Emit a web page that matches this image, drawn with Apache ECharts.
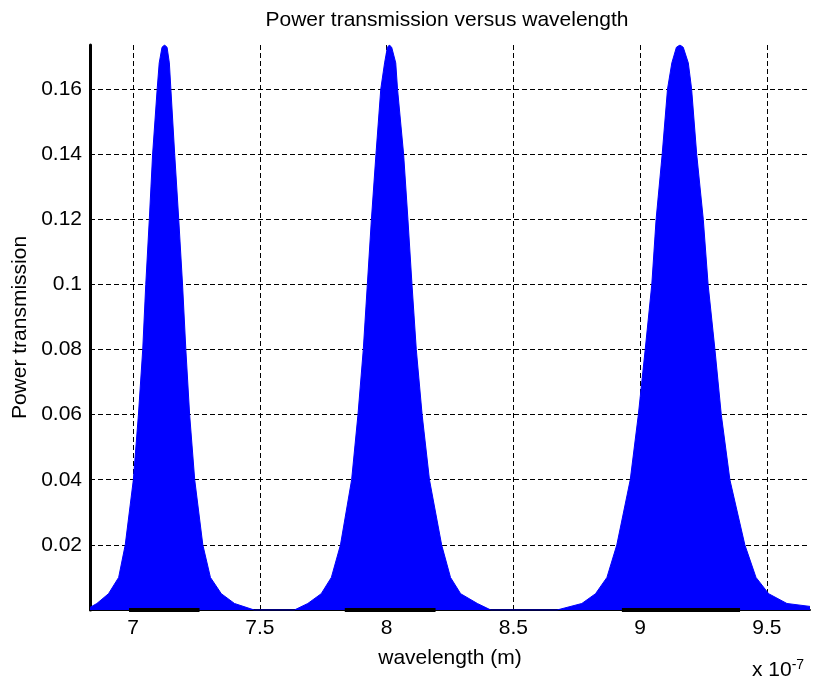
<!DOCTYPE html>
<html>
<head>
<meta charset="utf-8">
<script src="https://cdn.jsdelivr.net/npm/echarts@6/dist/echarts.min.js"></script>
<style>
html,body{margin:0;padding:0;background:#fff;}
#chart{width:815px;height:686px;}
</style>
</head>
<body>
<div id="chart"></div>
<script>
// wavelength in units of 1e-7 m
var wavelength = [
  6.83, 6.857, 6.903, 6.943, 6.969, 7.001, 7.021, 7.038, 7.050, 7.064, 7.077, 7.095,
  7.103, 7.114, 7.124, 7.134, 7.143,
  7.149, 7.164, 7.180, 7.195, 7.208, 7.223, 7.243, 7.275, 7.305, 7.348, 7.400, 7.478,
  7.636, 7.689, 7.742, 7.782, 7.818, 7.862, 7.887, 7.908, 7.924, 7.940, 7.958, 7.977,
  7.992, 8.003, 8.011, 8.020, 8.036,
  8.043, 8.067, 8.084, 8.100, 8.117, 8.140, 8.169, 8.217, 8.252, 8.292, 8.358, 8.411,
  8.672, 8.770, 8.824, 8.869, 8.908, 8.961, 8.993, 9.020, 9.046, 9.063, 9.087, 9.108,
  9.125, 9.143, 9.157, 9.170, 9.190,
  9.203, 9.223, 9.249, 9.268, 9.295, 9.320, 9.354, 9.413, 9.457, 9.507, 9.579, 9.67
];
var transmission = [
  0.0008, 0.002, 0.005, 0.01, 0.02, 0.04, 0.06, 0.08, 0.10, 0.12, 0.14, 0.16,
  0.168, 0.1728, 0.1735, 0.1728, 0.168,
  0.16, 0.14, 0.12, 0.10, 0.08, 0.06, 0.04, 0.02, 0.01, 0.005, 0.002, 0.0,
  0.0, 0.002, 0.005, 0.01, 0.02, 0.04, 0.06, 0.08, 0.10, 0.12, 0.14, 0.16,
  0.168, 0.1728, 0.1735, 0.1728, 0.168,
  0.16, 0.14, 0.12, 0.10, 0.08, 0.06, 0.04, 0.02, 0.01, 0.005, 0.002, 0.0,
  0.0, 0.002, 0.005, 0.01, 0.02, 0.04, 0.06, 0.08, 0.10, 0.12, 0.14, 0.16,
  0.168, 0.1728, 0.1735, 0.1728, 0.168,
  0.16, 0.14, 0.12, 0.10, 0.08, 0.06, 0.04, 0.02, 0.01, 0.005, 0.002, 0.0011
];
// dark baseline segments under each peak [start, end]
var baselineSegments = [[6.984, 7.262], [7.835, 8.193], [8.928, 9.394]];
var xMin = 6.83, xMax = 9.67;
var yMin = 0, yMax = 0.1735;

var titleText = 'Power transmission versus wavelength';
var xName = 'wavelength (m)';
var yName = 'Power transmission';

var FONT = '"Liberation Sans", Arial, sans-serif';

var chart = echarts.init(document.getElementById('chart'), null, {renderer: 'canvas'});

var series = [{
  type: 'line',
  data: wavelength.map(function (w, i) { return [w, transmission[i]]; }),
  showSymbol: false,
  symbol: 'none',
  lineStyle: {color: '#0000ff', width: 1},
  itemStyle: {color: '#0000ff'},
  areaStyle: {color: '#0000ff', opacity: 1, origin: 'start'},
  animation: false,
  z: 2
}];
baselineSegments.forEach(function (s) {
  series.push({
    type: 'line',
    data: [[s[0], 0], [s[1], 0]],
    symbol: 'none',
    lineStyle: {color: '#000', width: 4},
    animation: false,
    z: 3
  });
});

chart.setOption({
  animation: false,
  backgroundColor: '#fff',
  grid: {left: 90, right: 5, top: 45, bottom: 76, containLabel: false},
  graphic: [
    {type: 'text', x: 447, y: 10, style: {text: titleText, font: '21px ' + FONT, fill: '#000', textAlign: 'center', textVerticalAlign: 'top'}},
    {type: 'text', x: 752, y: 658, style: {text: 'x 10{s|-7}', rich: {s: {fontSize: 14, fontFamily: FONT, verticalAlign: 'top', padding: [0, 0, 10, 0]}}, font: '21px ' + FONT, fill: '#000', textVerticalAlign: 'top'}}
  ],
  xAxis: {
    type: 'value', min: xMin, max: xMax, splitNumber: 5,
    name: xName, nameLocation: 'middle', nameGap: 38,
    nameTextStyle: {fontSize: 21, fontFamily: FONT, color: '#000'},
    axisLine: {show: true, lineStyle: {color: '#000', width: 2}},
    axisTick: {show: true, inside: true, length: 5, lineStyle: {color: '#000'}},
    axisLabel: {showMinLabel: false, showMaxLabel: false, fontSize: 21, fontFamily: FONT, color: '#000', margin: 8},
    splitLine: {show: true, showMinLine: false, showMaxLine: false, lineStyle: {color: '#000', type: [5, 3], width: 1}}
  },
  yAxis: {
    type: 'value', min: yMin, max: yMax, interval: 0.02,
    name: yName, nameLocation: 'middle', nameGap: 58,
    nameTextStyle: {fontSize: 21, fontFamily: FONT, color: '#000'},
    axisLine: {show: true, lineStyle: {color: '#000', width: 3}},
    axisTick: {show: true, inside: true, length: 5, lineStyle: {color: '#000'}},
    axisLabel: {showMinLabel: false, showMaxLabel: false, fontSize: 21, fontFamily: FONT, color: '#000', margin: 8},
    splitLine: {show: true, showMinLine: false, showMaxLine: false, lineStyle: {color: '#000', type: [5, 3], width: 1}}
  },
  series: series
});
</script>
</body>
</html>
